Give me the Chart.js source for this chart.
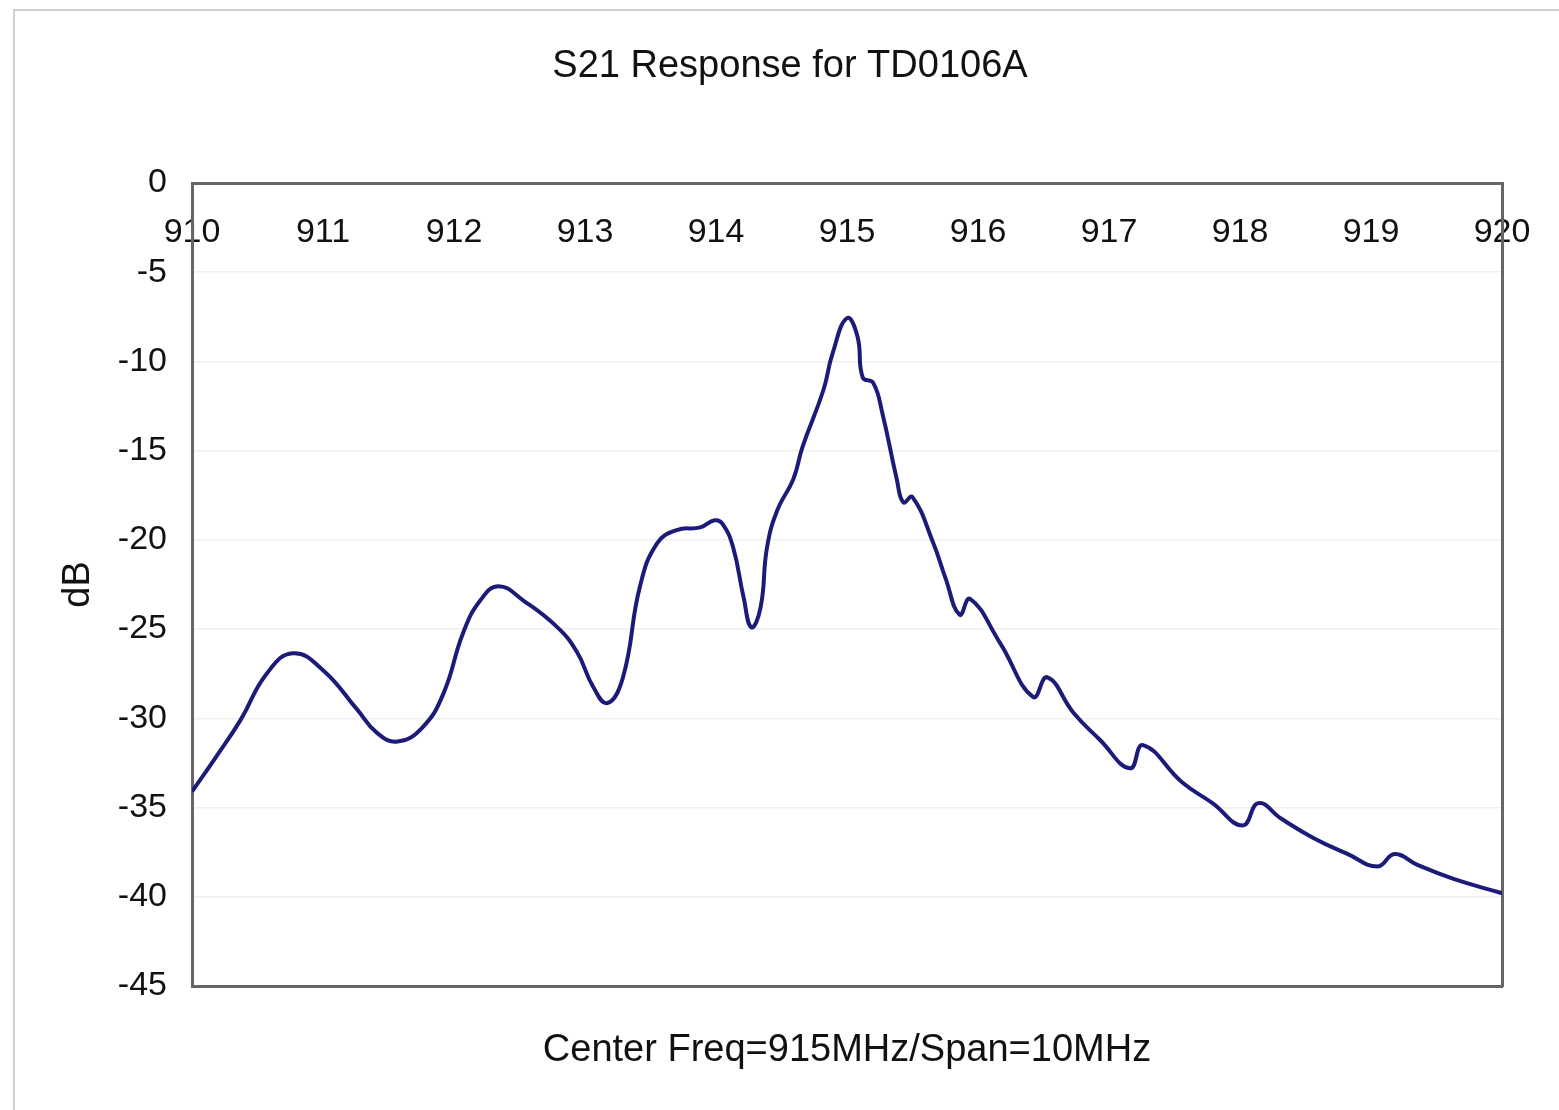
<!DOCTYPE html>
<html>
<head>
<meta charset="utf-8">
<title>S21 Response for TD0106A</title>
<script src="https://cdn.jsdelivr.net/npm/chart.js@4.4.1/dist/chart.umd.min.js"></script>
<style>
  html, body { margin: 0; padding: 0; background: #fff; }
  canvas { display: block; }
</style>
</head>
<body>
<canvas id="s21Chart" width="1559" height="1110"></canvas>
<script>
const freqMHz = [910.00, 910.18, 910.37, 910.57, 910.77, 911.00, 911.26, 911.41, 911.57, 911.76,
    911.92, 912.07, 912.20, 912.34, 912.53, 912.79, 912.94, 913.06, 913.17, 913.29,
    913.42, 913.55, 913.70, 913.88, 913.99, 914.05, 914.13, 914.21, 914.27, 914.34,
    914.39, 914.47, 914.59, 914.66, 914.82, 914.89, 915.00, 915.08, 915.12, 915.20,
    915.27, 915.38, 915.43, 915.50, 915.66, 915.75, 915.86, 915.94, 916.17, 916.42,
    916.53, 916.73, 916.93, 917.16, 917.26, 917.56, 917.79, 918.02, 918.14, 918.31,
    918.56, 918.82, 919.05, 919.18, 919.35, 919.63, 920.00];
const s21dB = [-34.1, -32.2, -30.1, -27.5, -26.35, -27.3, -29.5, -30.8, -31.3, -30.5,
    -28.6, -25.2, -23.4, -22.6, -23.4, -24.9, -26.3, -28.2, -29.15, -27.7,
    -22.6, -20.2, -19.45, -19.3, -18.9, -19.1, -20.4, -23.2, -24.9, -23.8,
    -20.4, -18.3, -16.6, -14.8, -11.6, -9.55, -7.57, -8.6, -10.9, -11.2,
    -12.9, -16.6, -17.9, -17.6, -20.2, -22.1, -24.2, -23.3, -25.8, -28.8,
    -27.7, -29.7, -31.2, -32.8, -31.5, -33.6, -34.75, -36.0, -34.75, -35.6,
    -36.7, -37.6, -38.3, -37.6, -38.2, -39.0, -39.8];

const chartTitle = 'S21 Response for TD0106A';
const xTitle = 'Center Freq=915MHz/Span=10MHz';
const yTitle = 'dB';
const xMin = 910, xMax = 920, xStep = 1;
const yMin = -45, yMax = 0, yStep = 5;

const fontFamily = '"Liberation Sans", Arial, Helvetica, sans-serif';

// outer frame like the spreadsheet chart area
const framePlugin = {
    id: 'frame',
    beforeDraw(chart) {
        const ctx = chart.ctx;
        ctx.save();
        ctx.fillStyle = '#fff';
        ctx.fillRect(0, 0, chart.width, chart.height);
        ctx.strokeStyle = '#cfcfcf';
        ctx.lineWidth = 2;
        ctx.strokeRect(14, 10, chart.width + 20, chart.height + 20);
        ctx.restore();
    }
};

const points = freqMHz.map((f, i) => ({ x: f, y: s21dB[i] }));

new Chart(document.getElementById('s21Chart'), {
    type: 'line',
    data: {
        datasets: [{
            label: 'S21',
            data: points,
            borderColor: '#1c1c78',
            borderWidth: 4,
            pointRadius: 0,
            fill: false,
            tension: 0.45,
            xAxisID: 'x',
            yAxisID: 'y'
        }]
    },
    options: {
        responsive: false,
        animation: false,
        layout: { padding: { left: 21, right: 0, top: 0, bottom: 0 } },
        plugins: {
            legend: { display: false },
            tooltip: { enabled: false },
            title: {
                display: true,
                text: chartTitle,
                color: '#111',
                font: { family: fontFamily, size: 38, weight: 'normal', lineHeight: 1 },
                padding: { top: 48, bottom: 97 }
            }
        },
        scales: {
            x: {
                type: 'linear',
                position: 'bottom',
                min: xMin,
                max: xMax,
                grid: { display: false },
                border: { display: true, color: '#666', width: 3 },
                ticks: { display: false },
                title: {
                    display: true,
                    text: xTitle,
                    color: '#111',
                    font: { family: fontFamily, size: 38, lineHeight: 1 },
                    padding: { top: 0, bottom: 40 }
                },
                afterFit(scale) { scale.height = 124; }
            },
            xTop: {
                type: 'linear',
                axis: 'x',
                position: { y: 0 },
                min: xMin,
                max: xMax,
                grid: { display: false },
                border: { display: true, color: '#666', width: 3 },
                ticks: {
                    stepSize: xStep,
                    color: '#111',
                    padding: 21,
                    font: { family: fontFamily, size: 34 },
                    maxRotation: 0
                }
            },
            y: {
                type: 'linear',
                position: 'left',
                min: yMin,
                max: yMax,
                grid: { color: '#efefef', lineWidth: 1.5, drawTicks: false },
                border: { display: true, color: '#666', width: 3 },
                ticks: {
                    stepSize: yStep,
                    color: '#111',
                    padding: 25,
                    font: { family: fontFamily, size: 34 }
                },
                title: {
                    display: true,
                    text: yTitle,
                    color: '#111',
                    font: { family: fontFamily, size: 38, lineHeight: 1 },
                    padding: { top: 39, bottom: 0 }
                },
                afterFit(scale) { scale.width = 171; }
            },
            yRight: {
                type: 'linear',
                position: 'right',
                min: yMin,
                max: yMax,
                grid: { display: false },
                border: { display: true, color: '#666', width: 3 },
                ticks: { display: false },
                afterFit(scale) { scale.width = 57; }
            }
        }
    },
    plugins: [framePlugin]
});
</script>
</body>
</html>
